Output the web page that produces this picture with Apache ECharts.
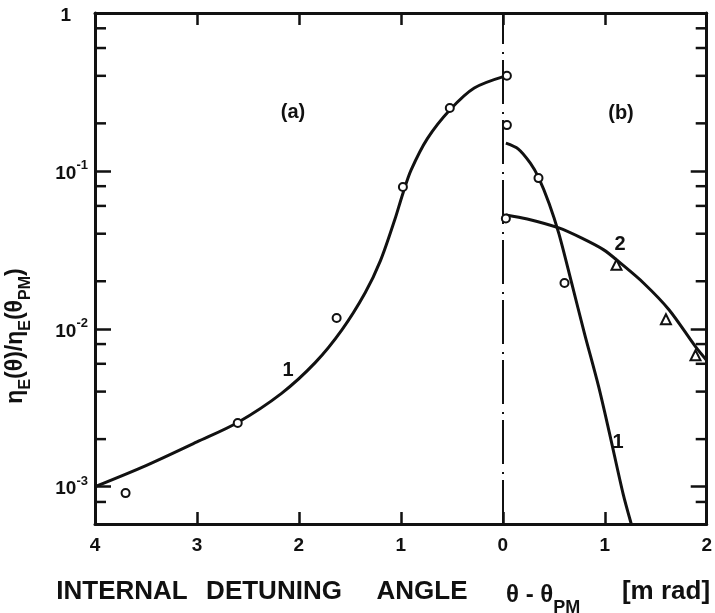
<!DOCTYPE html>
<html>
<head>
<meta charset="utf-8">
<script src="https://cdn.jsdelivr.net/npm/echarts@6/dist/echarts.min.js"></script>
<style>
  html, body { margin: 0; padding: 0; background: #ffffff; }
  #chart { width: 715px; height: 613px; }
</style>
</head>
<body>
<div id="chart"></div>
<script>
// Detuning axis: left half (a) is plotted at negative values, labels show |θ-θPM|
const xRange = [-4, 2];
const yRange = [5.8e-4, 1];

// Curve 1, region (a)
const curve1a = [
  [-4.0, 1.0e-3], [-3.5, 1.36e-3], [-3.0, 1.92e-3], [-2.6, 2.55e-3],
  [-2.17, 3.9e-3], [-1.84, 6.1e-3], [-1.58, 9.8e-3], [-1.35, 1.69e-2],
  [-1.2, 2.7e-2], [-1.06, 4.9e-2], [-0.98, 0.072], [-0.9, 0.101],
  [-0.74, 0.16], [-0.52, 0.243], [-0.28, 0.335], [0.03, 0.40]
];
const points1a = [
  [-3.7, 9.1e-4], [-2.6, 2.53e-3], [-1.63, 1.17e-2],
  [-0.98, 7.9e-2], [-0.52, 0.25], [0.04, 0.40]
];

// Curve 1, region (b)
const curve1b = [
  [0.03, 0.15], [0.15, 0.138], [0.27, 0.112], [0.35, 0.091], [0.455, 0.062],
  [0.55, 0.040], [0.675, 0.0195], [0.80, 0.0094], [0.94, 0.0043],
  [1.045, 0.0022], [1.18, 9.0e-4], [1.26, 5.8e-4], [1.32, 4.3e-4]
];
const points1b = [[0.04, 0.195], [0.35, 0.090], [0.605, 0.0195]];

// Curve 2, region (b)
const curve2b = [
  [0.03, 0.0526], [0.24, 0.0496], [0.55, 0.0435], [0.77, 0.0376], [0.99, 0.0316],
  [1.14, 0.0265], [1.38, 0.0195], [1.63, 0.0132], [1.89, 0.0077], [2.0, 0.0063]
];
const circles2b = [[0.03, 0.050]];
const triangles2b = [[1.115, 0.0254], [1.60, 0.0115], [1.89, 0.0068]];

// Minor ticks on the logarithmic axes (2, 4, 6, 8 per decade)
const minorTicks = [
  8e-4,
  2e-3, 4e-3, 6e-3, 8e-3,
  2e-2, 4e-2, 6e-2, 8e-2,
  2e-1, 4e-1, 6e-1, 8e-1
];

const FONT = "'Liberation Sans', Arial, sans-serif";
const INK = '#111111';

const chart = echarts.init(document.getElementById('chart'), null, { renderer: 'canvas' });

const curveStyle = { color: INK, width: 3 };
const hollow = { color: '#ffffff', borderColor: INK, borderWidth: 2, opacity: 1 };

function logLabel(v) {
  const e = Math.round(Math.log10(v));
  if (e === 0) return '{one|1}';
  return '{b|10}{s|' + e + '}';
}

const xAxisBase = {
  type: 'value', min: xRange[0], max: xRange[1], interval: 1,
  splitLine: { show: false },
  axisLine: { onZero: false, lineStyle: { color: INK, width: 3 } },
  axisTick: { inside: true, length: 12, lineStyle: { color: INK, width: 2.5 } }
};
const yAxisBase = {
  type: 'log', logBase: 10, min: yRange[0], max: yRange[1],
  splitLine: { show: false },
  axisLine: { onZero: false, lineStyle: { color: INK, width: 3 } },
  axisTick: { inside: true, length: 16, lineStyle: { color: INK, width: 2.5 } }
};

const labelText = (text, x, y, size) => ({
  type: 'text', x: x, y: y,
  style: { text: text, font: 'bold ' + size + 'px ' + FONT, fill: INK, align: 'center', verticalAlign: 'middle' }
});

chart.setOption({
  backgroundColor: '#ffffff',
  animation: false,
  grid: { left: 95, right: 4, top: 13, bottom: 89 },
  xAxis: [
    Object.assign({}, xAxisBase, {
      position: 'bottom',
      axisLabel: {
        color: INK, fontFamily: FONT, fontWeight: 'bold', fontSize: 19, margin: 12,
        formatter: v => String(Math.abs(v))
      }
    }),
    Object.assign({}, xAxisBase, { position: 'top', axisLabel: { show: false } })
  ],
  yAxis: [
    Object.assign({}, yAxisBase, {
      position: 'left',
      axisLabel: {
        showMinLabel: false, margin: 7, color: INK,
        formatter: logLabel,
        rich: {
          one: { fontFamily: FONT, fontWeight: 'bold', fontSize: 19, color: INK, lineHeight: 24, verticalAlign: 'bottom', padding: [0, 17, 0, 0] },
          b: { fontFamily: FONT, fontWeight: 'bold', fontSize: 19, color: INK, lineHeight: 24, verticalAlign: 'bottom' },
          s: { fontFamily: FONT, fontWeight: 'bold', fontSize: 13, color: INK, verticalAlign: 'top' }
        }
      }
    }),
    Object.assign({}, yAxisBase, { position: 'right', axisLabel: { show: false } })
  ],
  series: [
    {
      name: 'minor ticks', type: 'custom', silent: true, clip: false,
      data: minorTicks.map(v => [xRange[0], v]),
      renderItem: function (params, api) {
        const v = api.value(1);
        const l = api.coord([xRange[0], v]);
        const r = api.coord([xRange[1], v]);
        const st = { stroke: INK, lineWidth: 2.5 };
        return {
          type: 'group',
          children: [
            { type: 'line', shape: { x1: l[0], y1: l[1], x2: l[0] + 11, y2: l[1] }, style: st },
            { type: 'line', shape: { x1: r[0], y1: r[1], x2: r[0] - 11, y2: r[1] }, style: st }
          ]
        };
      },
      z: 1
    },
    {
      name: 'curve 1 (a)', type: 'line', data: curve1a, smooth: 0.3,
      showSymbol: false, lineStyle: curveStyle,
      markLine: {
        silent: true, symbol: 'none', label: { show: false },
        lineStyle: { color: INK, width: 2, type: [44, 6, 2, 8] },
        data: [{ xAxis: 0 }]
      }
    },
    {
      name: 'curve 1 (b)', type: 'line', data: curve1b, smooth: 0.3,
      showSymbol: false, lineStyle: curveStyle, clip: true
    },
    {
      name: 'curve 2 (b)', type: 'line', data: curve2b, smooth: 0.3,
      showSymbol: false, lineStyle: curveStyle
    },
    {
      name: 'circles', type: 'scatter', symbol: 'circle', symbolSize: 8,
      data: points1a.concat(points1b, circles2b), itemStyle: hollow, z: 5
    },
    {
      name: 'triangles', type: 'scatter', symbol: 'triangle', symbolSize: 10,
      data: triangles2b, itemStyle: hollow, z: 5
    }
  ],
  graphic: [
    {
      type: 'text', x: 19, y: 336, rotation: Math.PI / 2,
      style: {
        text: '{m|η}{d|E}{m|(θ)/η}{d|E}{m|(θ}{d|PM}{m|)}',
        align: 'center', verticalAlign: 'middle',
        rich: {
          m: { fontFamily: FONT, fontWeight: 'bold', fontSize: 23, fill: INK, lineHeight: 30, verticalAlign: 'top' },
          d: { fontFamily: FONT, fontWeight: 'bold', fontSize: 16, fill: INK, verticalAlign: 'bottom' }
        }
      }
    },
    labelText('(a)', 293, 112, 20),
    labelText('(b)', 621, 113, 20),
    labelText('1', 288, 370, 20),
    labelText('2', 620, 244, 20),
    labelText('1', 618, 442, 20),
    labelText('INTERNAL', 122, 592, 26),
    labelText('DETUNING', 274, 592, 26),
    labelText('ANGLE', 422, 592, 26),
    {
      type: 'text', x: 506, y: 600,
      style: {
        text: '{m|θ - θ}{d|PM}', align: 'left', verticalAlign: 'middle',
        rich: {
          m: { fontFamily: FONT, fontWeight: 'bold', fontSize: 24, fill: INK, lineHeight: 34, verticalAlign: 'top' },
          d: { fontFamily: FONT, fontWeight: 'bold', fontSize: 18, fill: INK, verticalAlign: 'bottom' }
        }
      }
    },
    labelText('[m rad]', 666, 592, 26)
  ]
});
</script>
</body>
</html>
